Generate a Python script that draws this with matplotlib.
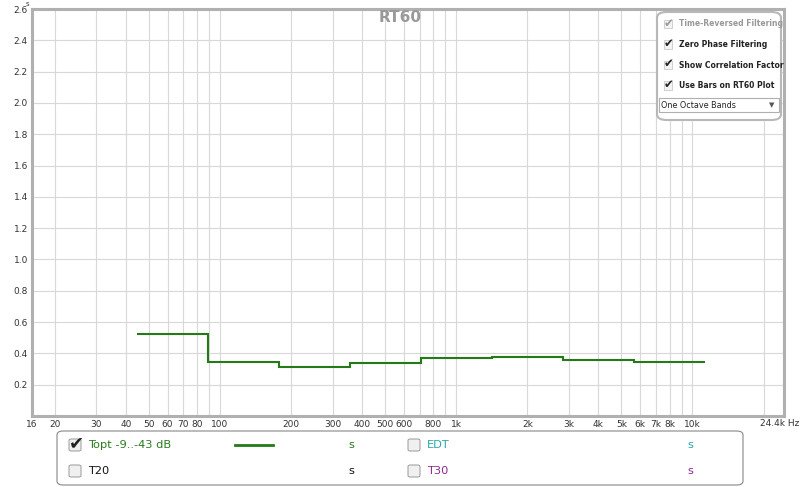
"""
RT60 : temps de réverbération par bande d'octave (réplique d'une capture REW).
Produit : out.png
"""

import matplotlib.pyplot as plt
from matplotlib.patches import FancyBboxPatch, Rectangle

bord_bandes = [44.5, 89, 177, 354, 707, 1414, 2828, 5657, 11314]  # Hz
rt60_topt = [0.523, 0.344, 0.316, 0.341, 0.369, 0.376, 0.358, 0.346]  # s

ticks_x = [16, 20, 30, 40, 50, 60, 70, 80, 100, 200, 300, 400, 500, 600,
           800, 1000, 2000, 3000, 4000, 5000, 6000, 7000, 8000, 10000]
labels_x = ["16", "20", "30", "40", "50", "60", "70", "80", "100", "200",
            "300", "400", "500", "600", "800", "1k", "2k", "3k", "4k", "5k",
            "6k", "7k", "8k", "10k"]
label_fin = "24.4k Hz"
grille_x = [20, 30, 40, 50, 60, 70, 80, 90, 100, 200, 300, 400, 500, 600,
            700, 800, 900, 1000, 2000, 3000, 4000, 5000, 6000, 7000, 8000,
            9000, 10000, 20000]
ticks_y = [0.2, 0.4, 0.6, 0.8, 1.0, 1.2, 1.4, 1.6, 1.8, 2.0, 2.2, 2.4, 2.6]

options = ["Time-Reversed Filtering", "Zero Phase Filtering",
           "Show Correlation Factor", "Use Bars on RT60 Plot"]
options_actives = [False, True, True, True]

legende = ["Topt -9..-43 dB", "EDT", "T20", "T30"]
legende_couleurs = ["#2a7a1e", "#2aa6a6", "#111111", "#8a2a8a"]

VERT = "#237a17"
W, H = 800, 487

fig = plt.figure(figsize=(W / 100, H / 100), dpi=100)


def px(x, y):
    """Coordonnées pixel (origine en haut à gauche) -> fraction de figure."""
    return x / W, 1 - y / H


ax = fig.add_axes([32 / W, 1 - 416 / H, (784 - 32) / W, (416 - 9) / H])
ax.set_xscale("log")
ax.set_xlim(16, 24400)
ax.set_ylim(0, 2.6)

for f in grille_x:
    ax.axvline(f, color="#d8d8d8", linewidth=0.8, zorder=0)
for v in ticks_y:
    ax.axhline(v, color="#d8d8d8", linewidth=0.8, zorder=0)

ax.stairs(rt60_topt, bord_bandes, color=VERT, linewidth=1.5, baseline=None)

ax.set_xticks(ticks_x)
ax.set_xticklabels(labels_x)
ax.xaxis.set_minor_locator(plt.NullLocator())
ax.set_yticks(ticks_y)
ax.set_yticklabels([f"{v:.1f}" for v in ticks_y])
ax.tick_params(length=0, labelsize=6.5, colors="#333333", pad=3)
for s in ax.spines.values():
    s.set_color("#b0b0b0")
    s.set_linewidth(2.2)

fig.text(*px(780, 424), label_fin, ha="center", va="center", fontsize=6.5,
         color="#333333")
fig.text(*px(400, 18), "RT60", ha="center", va="center", fontsize=11,
         fontweight="bold", color="#999999")
fig.text(*px(27, 3.5), "s", ha="center", va="center", fontsize=5,
         color="#333333")

# Panneau d'options en haut à droite
x0, y0 = px(657, 120)
x1, y1 = px(781, 12)
fig.patches.append(FancyBboxPatch((x0, y0), x1 - x0, y1 - y0,
                                  boxstyle="round,pad=0,rounding_size=0.012",
                                  transform=fig.transFigure, facecolor="white",
                                  edgecolor="#b8b8b8", linewidth=1.5))
for i, (txt, actif) in enumerate(zip(options, options_actives)):
    y = 24 + i * 20.5
    c = "#222222" if actif else "#999999"
    bx, by = px(664, y + 4)
    fig.patches.append(Rectangle((bx, by), 8 / W, 8 / H,
                                 transform=fig.transFigure,
                                 facecolor="#f4f4f4", edgecolor="#c0c0c0",
                                 linewidth=0.5))
    fig.text(*px(669, y - 1), "✔", ha="center", va="center", fontsize=8.5,
             color=c)
    fig.text(*px(679, y), txt, ha="left", va="center", fontsize=5.5,
             color=c, fontweight="bold")
bx, by = px(659, 112)
fig.patches.append(Rectangle((bx, by), 120 / W, 14 / H,
                             transform=fig.transFigure, facecolor="white",
                             edgecolor="#b0b0b0", linewidth=0.8))
fig.text(*px(661, 105), "One Octave Bands", ha="left", va="center",
         fontsize=5.8, color="#222222")
fig.text(*px(772, 105), "▼", ha="center", va="center", fontsize=5,
         color="#555555")

# Légende en bas
x0, y0 = px(57, 485)
x1, y1 = px(743, 431)
fig.patches.append(FancyBboxPatch((x0, y0), x1 - x0, y1 - y0,
                                  boxstyle="round,pad=0,rounding_size=0.008",
                                  transform=fig.transFigure, facecolor="white",
                                  edgecolor="#888888", linewidth=0.8))
positions = [(69, 445), (408, 445), (69, 471), (408, 471)]
pos_s = [351, 690, 351, 690]
for i, (nom, c) in enumerate(zip(legende, legende_couleurs)):
    xc, yc = positions[i]
    bx, by = px(xc, yc + 6)
    fig.patches.append(FancyBboxPatch((bx, by), 12 / W, 12 / H,
                                      boxstyle="round,pad=0,rounding_size=0.003",
                                      transform=fig.transFigure,
                                      facecolor="#f0f0f0", edgecolor="#999999",
                                      linewidth=0.7))
    if i == 0:
        fig.text(*px(xc + 7, yc - 2), "✔", ha="center", va="center",
                 fontsize=13, color="#222222")
    fig.text(*px(xc + 19, yc), nom, ha="left", va="center", fontsize=8.2,
             color=c)
    fig.text(*px(pos_s[i], yc), "s", ha="center", va="center", fontsize=8.2,
             color=c)
fig.add_artist(plt.Line2D([235 / W, 273 / W], [1 - 445 / H, 1 - 445 / H],
                          color=VERT, linewidth=2, transform=fig.transFigure))

fig.savefig("out.png", dpi=100)
